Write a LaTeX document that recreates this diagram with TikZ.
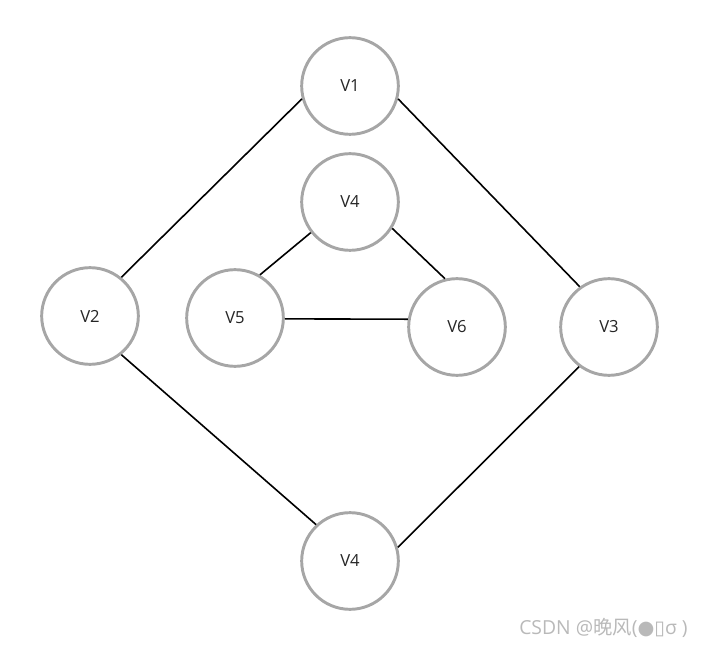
\documentclass[tikz,border=0pt]{standalone}
\usepackage{fontspec}
\setmainfont{Open Sans}
\newfontfamily\cjkfont{Noto Sans CJK SC}
\newfontfamily\symfont{DejaVu Sans}
\usepackage{xcolor}
\definecolor{bordo}{RGB}{166,166,166}
\definecolor{segno}{RGB}{185,185,185}

\tikzset{
    vertice/.style={circle, draw=bordo, line width=2.2pt, minimum size=72.5pt, inner sep=0pt,
        font=\fontsize{12.5}{14}\selectfont, text=black!85},
    arco/.style={line width=1.2pt, black}
}

\begin{document}
\begin{tikzpicture}[x=0.75pt, y=-0.75pt, >=stealth]
    \useasboundingbox (0,0) rectangle (703,648);

    % Nodi esterni
    \node[vertice] (v1) at (350, 86) {V1};
    \node[vertice] (v2) at (90, 316) {V2};
    \node[vertice] (v3) at (609, 327) {V3};
    \node[vertice] (v4b) at (350, 561) {V4};

    % Triangolo interno
    \node[vertice] (v4a) at (350, 202) {V4};
    \node[vertice] (v5) at (235, 318) {V5};
    \node[vertice] (v6) at (457, 327) {V6};

    % Archi
    \draw[arco] (v1.195) -- (v2.51);
    \draw[arco] (v1.345) -- (v3.126);
    \draw[arco] (v2.309) -- (v4b.133);
    \draw[arco] (v3.233) -- (v4b.16);
    \draw[arco] (v4a.218) -- (v5.60);
    \draw[arco] (v4a.328) -- (v6.104);
    \draw[arco] (v5.359) -- (v6.171);

    % Filigrana
    \node[anchor=west, text=segno, font=\fontsize{14.5}{16}\selectfont, inner sep=0pt] (firma) at (519, 628)
        {CSDN @{\cjkfont 晚风}({\symfont ●▯}σ )};
\end{tikzpicture}
\end{document}
